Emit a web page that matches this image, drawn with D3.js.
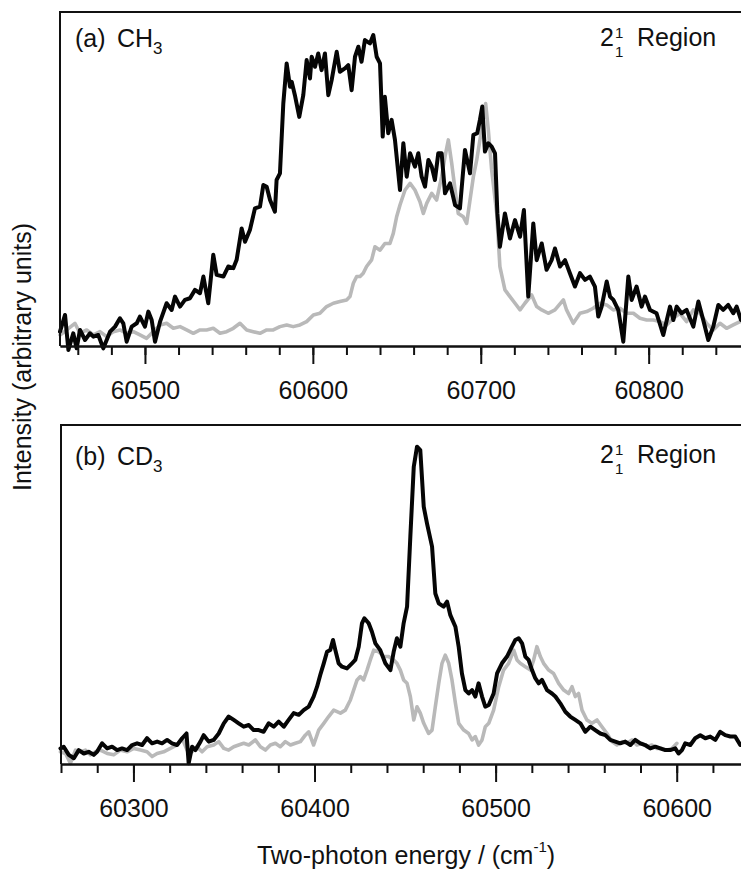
<!DOCTYPE html>
<html>
<head>
<meta charset="utf-8">
<script src="https://cdn.jsdelivr.net/npm/d3@7"></script>
<style>
    body { margin: 0; background: #fff; }
    text { font-family: "Liberation Sans", Arial, sans-serif; fill: #111; }
    .frame { stroke: #111; stroke-width: 2; fill: none; }
    .trace { fill: none; stroke-linejoin: round; stroke-linecap: round; }
</style>
</head>
<body>
<script>
(function(){

    //spectra: [two-photon energy (cm-1), intensity (arb.)]
    var ch3Black = [[60449.4,4.3],[60452.4,9.3],[60454.4,-1.2],[60457.3,3.8],[60459.3,-0.7],[60461.3,4.8],[60464.3,1.8],[60467.3,3.8],[60469.3,2.8],[60472.2,3.3],[60475.2,-0.7],[60477.2,1.8],[60479.2,4.3],[60482.2,5.8],[60485.1,8.3],[60487.1,6.8],[60489.1,1.3],[60492.1,5.8],[60495.1,6.8],[60497.0,8.8],[60500.0,5.8],[60502.0,10.3],[60504.0,7.8],[60506.0,1.3],[60509.0,7.3],[60512.9,12.8],[60515.9,10.8],[60517.9,14.8],[60520.9,11.8],[60523.8,13.8],[60526.8,14.3],[60529.8,16.8],[60532.8,15.8],[60534.8,20.8],[60537.7,12.8],[60540.7,27.3],[60542.7,21.3],[60546.7,20.8],[60549.6,23.8],[60552.6,23.3],[60554.6,25.8],[60557.6,35.2],[60559.6,31.2],[60562.5,34.7],[60565.5,41.2],[60568.5,41.7],[60570.5,48.2],[60572.5,47.7],[60574.5,43.7],[60577.4,40.2],[60578.4,49.7],[60580.4,51.7],[60582.4,72.6],[60584.4,84.6],[60586.4,77.6],[60587.4,79.1],[60589.3,75.1],[60591.9,68.6],[60594.3,75.1],[60596.3,85.6],[60598.3,80.1],[60599.3,86.6],[60601.3,83.6],[60603.2,87.6],[60605.2,82.6],[60607.2,87.6],[60609.2,75.1],[60611.2,79.6],[60614.2,88.1],[60616.1,82.1],[60619.1,83.1],[60621.1,84.1],[60623.1,76.6],[60625.1,86.6],[60627.1,89.6],[60629.0,85.1],[60631.0,91.6],[60634.0,90.6],[60636.0,93.1],[60638.0,86.6],[60640.0,84.6],[60641.6,62.7],[60642.9,74.6],[60644.9,63.7],[60646.9,67.7],[60648.9,61.7],[60651.9,46.7],[60653.9,60.7],[60655.9,50.7],[60657.9,57.7],[60660.8,53.7],[60662.8,57.7],[60664.8,50.7],[60666.8,47.7],[60668.8,55.7],[60670.8,53.7],[60672.7,49.7],[60674.7,57.7],[60676.7,57.7],[60678.7,45.7],[60681.7,48.7],[60684.7,42.2],[60687.6,41.2],[60690.6,58.7],[60693.6,51.7],[60695.6,63.2],[60697.9,63.7],[60699.5,67.7],[60700.9,71.7],[60702.5,58.2],[60704.5,60.7],[60706.5,59.7],[60708.5,57.7],[60709.9,39.7],[60711.4,29.7],[60714.4,39.7],[60717.4,32.2],[60720.4,37.7],[60723.4,32.7],[60725.7,40.7],[60728.3,14.8],[60731.3,36.7],[60733.3,25.7],[60736.3,30.7],[60739.2,22.8],[60742.2,25.7],[60744.2,29.2],[60747.2,23.8],[60750.2,25.7],[60753.1,21.8],[60756.1,17.8],[60759.1,21.8],[60762.1,19.8],[60765.0,20.8],[60768.0,17.8],[60770.0,8.8],[60772.0,11.8],[60775.0,19.3],[60777.0,14.8],[60779.0,13.8],[60781.9,10.8],[60784.9,1.3],[60787.9,20.8],[60789.9,13.8],[60792.8,17.8],[60795.8,11.8],[60797.8,14.8],[60800.8,10.8],[60804.7,9.8],[60808.7,3.3],[60812.7,11.8],[60814.7,7.8],[60816.7,11.8],[60819.6,9.8],[60822.6,10.8],[60826.6,5.8],[60829.6,13.3],[60832.5,7.8],[60835.5,1.8],[60838.5,5.8],[60841.5,12.3],[60844.4,10.8],[60847.4,12.3],[60850.4,9.8],[60852.4,11.8],[60855.0,7.8]];

    var ch3Gray = [[60449.4,3.3],[60453.4,4.8],[60458.3,6.8],[60461.3,3.8],[60465.3,4.8],[60469.3,3.3],[60473.2,4.3],[60477.2,2.8],[60481.2,4.3],[60485.1,4.8],[60489.1,3.8],[60493.1,4.3],[60497.0,3.3],[60501.0,2.3],[60505.0,4.3],[60509.0,6.3],[60512.9,6.8],[60516.9,5.3],[60520.9,5.8],[60524.8,4.8],[60528.8,3.8],[60532.8,4.8],[60536.7,4.8],[60540.7,5.3],[60544.7,3.8],[60548.6,4.3],[60552.6,5.3],[60556.6,6.8],[60560.6,4.8],[60564.5,4.3],[60568.5,3.8],[60572.5,4.8],[60576.4,4.8],[60580.4,5.8],[60584.4,6.3],[60588.3,5.8],[60592.3,6.3],[60596.3,7.3],[60600.3,9.3],[60604.2,9.8],[60608.2,11.8],[60612.2,12.8],[60616.1,13.3],[60620.1,13.8],[60622.1,14.8],[60624.1,18.8],[60626.1,20.8],[60628.1,20.8],[60630.0,21.8],[60632.0,23.8],[60635.0,25.8],[60637.0,29.7],[60640.0,28.7],[60642.9,30.7],[60645.9,30.7],[60647.9,33.7],[60649.9,38.7],[60651.9,42.2],[60654.9,46.7],[60657.9,48.7],[60660.8,46.7],[60663.8,43.2],[60665.8,39.7],[60667.8,42.7],[60670.8,45.7],[60673.7,43.7],[60676.7,50.7],[60678.7,56.7],[60680.7,61.7],[60682.7,54.7],[60684.7,46.7],[60686.6,39.7],[60689.6,38.7],[60691.6,36.7],[60693.6,43.7],[60695.6,50.7],[60697.6,55.7],[60699.5,61.7],[60701.5,67.7],[60702.9,72.6],[60704.5,64.7],[60706.5,52.7],[60709.5,39.7],[60711.4,23.8],[60714.4,16.8],[60717.4,14.8],[60720.4,12.8],[60723.4,10.8],[60726.3,12.8],[60730.3,15.3],[60733.3,11.8],[60736.3,10.8],[60740.2,9.8],[60744.2,10.8],[60749.2,13.8],[60751.1,10.8],[60755.1,6.8],[60759.1,9.8],[60763.1,10.3],[60767.0,11.3],[60771.0,12.8],[60775.0,12.3],[60778.9,10.8],[60782.9,11.3],[60786.9,9.8],[60790.9,9.8],[60794.8,8.3],[60798.8,7.8],[60802.8,7.8],[60806.7,7.3],[60810.7,6.3],[60814.7,8.3],[60818.6,9.8],[60822.6,7.3],[60826.6,10.8],[60830.5,9.8],[60834.5,6.8],[60838.5,4.8],[60842.5,6.8],[60846.4,5.3],[60850.4,6.3],[60854.4,7.3]];

    var cd3Black = [[60259.7,4.6],[60261.5,5.1],[60264.3,2.7],[60267.1,1.7],[60269.8,4.1],[60272.6,3.1],[60275.3,3.6],[60278.1,2.7],[60279.9,3.6],[60282.7,6.1],[60285.5,4.6],[60288.2,5.1],[60291.0,4.1],[60293.7,4.6],[60296.5,4.1],[60299.3,5.6],[60302.0,6.1],[60304.8,5.6],[60307.5,7.6],[60310.3,6.1],[60313.1,6.6],[60315.8,6.1],[60318.6,7.1],[60321.3,6.1],[60324.1,5.6],[60326.9,7.6],[60329.3,9.0],[60330.5,0.2],[60332.4,5.1],[60334.2,4.1],[60337.0,6.6],[60338.8,8.5],[60341.6,6.6],[60344.3,7.1],[60347.1,9.0],[60349.9,12.0],[60352.6,14.0],[60355.4,13.0],[60358.1,12.0],[60360.9,11.0],[60363.7,11.5],[60366.4,10.0],[60369.2,10.0],[60371.9,9.5],[60374.7,12.0],[60377.5,11.0],[60380.2,12.5],[60383.0,11.0],[60385.7,13.0],[60388.5,15.0],[60391.3,14.5],[60394.0,15.9],[60396.8,16.9],[60399.5,19.9],[60401.4,22.8],[60403.2,26.3],[60405.1,29.7],[60406.9,33.1],[60408.7,33.6],[60410.2,36.6],[60411.5,33.6],[60413.3,29.7],[60415.2,28.7],[60417.9,28.2],[60420.7,29.7],[60422.5,30.7],[60424.4,34.6],[60426.2,41.5],[60427.5,43.0],[60429.9,41.5],[60431.7,39.0],[60433.6,35.6],[60436.3,33.6],[60439.1,29.7],[60441.9,27.7],[60443.7,33.1],[60445.5,37.1],[60447.4,34.6],[60449.2,41.5],[60451.1,46.4],[60452.9,67.0],[60454.8,87.7],[60456.6,93.6],[60458.4,92.6],[60460.3,75.9],[60462.1,71.0],[60464.9,64.1],[60466.7,50.3],[60468.6,47.4],[60471.3,46.4],[60473.2,47.9],[60475.0,43.9],[60477.8,40.5],[60479.6,34.6],[60481.4,26.7],[60483.3,21.8],[60485.1,20.8],[60487.0,21.8],[60488.8,19.9],[60490.6,23.8],[60492.5,19.9],[60494.3,16.9],[60496.2,17.4],[60498.9,20.8],[60500.8,26.7],[60503.5,29.7],[60506.3,31.7],[60509.0,34.6],[60510.9,36.6],[60512.7,37.1],[60514.6,35.6],[60516.4,31.7],[60518.2,30.7],[60520.1,27.7],[60521.9,25.3],[60523.8,23.8],[60525.6,24.8],[60528.4,21.8],[60531.1,20.8],[60533.0,19.9],[60535.7,17.9],[60538.5,15.4],[60541.2,14.0],[60544.0,13.0],[60546.8,12.0],[60549.5,9.5],[60552.3,11.0],[60555.0,10.0],[60557.8,9.0],[60560.6,8.5],[60563.3,7.1],[60566.1,6.6],[60568.8,6.1],[60571.6,6.6],[60574.4,5.6],[60577.1,7.1],[60579.9,6.1],[60582.6,5.6],[60585.4,4.6],[60588.2,5.1],[60590.9,4.6],[60593.7,4.1],[60596.4,4.1],[60599.2,4.6],[60601.0,3.1],[60602.9,4.1],[60604.7,6.1],[60607.5,5.6],[60610.2,7.6],[60613.0,8.5],[60615.8,7.6],[60618.5,8.1],[60621.3,7.1],[60624.0,9.5],[60626.8,8.5],[60629.6,8.1],[60632.3,8.1],[60635.1,5.6]];

    var cd3Gray = [[60259.7,3.6],[60262.5,3.1],[60265.2,0.2],[60268.0,4.1],[60270.7,3.6],[60273.5,4.1],[60276.3,2.7],[60279.0,3.6],[60281.8,4.1],[60285.5,3.1],[60289.1,2.7],[60292.8,4.1],[60296.5,3.6],[60300.2,4.6],[60303.9,4.1],[60307.5,3.6],[60310.3,2.2],[60313.1,3.1],[60316.7,3.6],[60320.4,4.6],[60324.1,5.6],[60326.9,7.6],[60329.6,4.1],[60332.4,3.6],[60335.1,5.1],[60337.9,3.6],[60340.7,5.1],[60344.3,5.6],[60347.1,6.6],[60349.9,4.6],[60352.6,4.1],[60355.4,5.1],[60358.1,5.6],[60360.9,6.1],[60363.7,5.6],[60367.3,7.1],[60370.1,5.1],[60372.9,4.1],[60375.6,5.6],[60378.4,6.1],[60381.1,5.1],[60383.9,6.6],[60386.7,5.6],[60389.4,6.1],[60392.2,6.6],[60394.9,8.5],[60396.8,9.5],[60399.5,5.6],[60402.3,10.0],[60405.1,12.0],[60407.8,14.0],[60410.6,15.9],[60414.3,15.0],[60417.0,15.9],[60419.8,18.9],[60421.6,21.8],[60423.5,24.8],[60425.3,25.8],[60427.1,24.8],[60429.0,27.7],[60430.8,30.7],[60432.7,33.6],[60435.4,33.1],[60438.2,31.7],[60440.9,31.7],[60443.7,30.7],[60445.5,29.7],[60447.4,27.7],[60449.2,24.8],[60451.1,23.8],[60452.9,19.9],[60454.8,13.0],[60456.6,16.9],[60458.4,15.0],[60460.3,12.0],[60463.0,9.0],[60464.9,10.0],[60466.7,16.9],[60468.6,23.8],[60470.4,29.7],[60472.2,32.1],[60474.1,29.7],[60475.9,24.8],[60477.8,17.9],[60479.6,12.0],[60482.4,10.0],[60485.1,9.0],[60487.0,7.1],[60488.8,8.1],[60490.6,5.6],[60492.5,7.1],[60494.3,11.0],[60496.2,12.0],[60498.9,15.9],[60501.7,22.8],[60504.4,27.7],[60507.2,29.7],[60510.0,33.6],[60511.8,30.7],[60513.6,29.7],[60516.4,28.7],[60519.2,27.7],[60521.0,30.7],[60522.8,34.6],[60524.7,31.7],[60526.5,29.7],[60529.3,27.7],[60532.0,26.7],[60534.8,23.8],[60537.6,21.8],[60540.3,20.8],[60542.2,22.8],[60544.0,19.9],[60545.8,20.8],[60547.7,15.9],[60550.4,13.0],[60553.2,12.0],[60556.0,13.0],[60558.7,11.0],[60561.5,9.0],[60564.2,6.6],[60567.0,5.6],[60569.8,6.6],[60572.5,6.1],[60575.3,7.1],[60578.0,5.6],[60580.8,6.1],[60583.6,5.1],[60586.3,5.6],[60589.1,4.6],[60591.8,4.6],[60594.6,4.1],[60597.4,4.6],[60600.1,6.1]];

    //tick values for each panel
    var ch3MajorTicks = [60500, 60600, 60700, 60800];
    var cd3MajorTicks = [60300, 60400, 60500, 60600];

    //text labels
    var panelLabels = [["(a)", "CH", "3"], ["(b)", "CD", "3"]];
    var regionLabel = "Region";
    var yTitle = "Intensity (arbitrary units)";
    var xTitle = "Two-photon energy / (cm";

    window.onload = setChart();

    function setChart(){
        var width = 741,
            height = 870;

        var svg = d3.select("body")
            .append("svg")
            .attr("width", width)
            .attr("height", height);

        //top panel: CH3
        drawPanel(svg, {
            left: 60, right: 741, top: 12, bottom: 346,
            xDomain: [60449.4, 60855],
            majors: ch3MajorTicks,
            minorStart: 60460,
            traces: [ch3Gray, ch3Black],
            label: panelLabels[0],
            labelY: 47,
            regionY: 46
        });

        //bottom panel: CD3
        drawPanel(svg, {
            left: 61, right: 741, top: 425, bottom: 764,
            xDomain: [60260, 60635.5],
            majors: cd3MajorTicks,
            minorStart: 60260,
            traces: [cd3Gray, cd3Black],
            label: panelLabels[1],
            labelY: 465,
            regionY: 463
        });

        //shared y title
        svg.append("text")
            .attr("transform", "translate(31,357) rotate(-90)")
            .attr("text-anchor", "middle")
            .style("font-size", "25px")
            .text(yTitle);

        //shared x title with superscript
        var xt = svg.append("text")
            .attr("x", 406)
            .attr("y", 864)
            .attr("text-anchor", "middle")
            .style("font-size", "25px");
        xt.append("tspan").text(xTitle);
        xt.append("tspan")
            .attr("dy", -12)
            .style("font-size", "15px")
            .text("-1");
        xt.append("tspan")
            .attr("dy", 12)
            .text(")");
    };

    function drawPanel(svg, p){
        var x = d3.scaleLinear()
            .domain(p.xDomain)
            .range([p.left, p.right]);

        var y = d3.scaleLinear()
            .domain([0, 100])
            .range([p.bottom, p.top]);

        var line = d3.line()
            .x(function(d){ return x(d[0]); })
            .y(function(d){ return y(d[1]); });

        //gray trace underneath, black on top
        svg.append("path")
            .datum(p.traces[0])
            .attr("class", "trace")
            .attr("d", line)
            .attr("stroke", "#b9b9b9")
            .attr("stroke-width", 3.6);

        svg.append("path")
            .datum(p.traces[1])
            .attr("class", "trace")
            .attr("d", line)
            .attr("stroke", "#050505")
            .attr("stroke-width", 4);

        //minor ticks every 20 cm-1
        var minorAxis = d3.axisBottom(x)
            .tickValues(d3.range(p.minorStart, p.xDomain[1], 20))
            .tickSize(9)
            .tickSizeOuter(0)
            .tickFormat("");

        svg.append("g")
            .attr("class", "axis minor")
            .attr("transform", "translate(0," + p.bottom + ")")
            .call(minorAxis);

        //major ticks with labels
        var majorAxis = d3.axisBottom(x)
            .tickValues(p.majors)
            .tickSize(18)
            .tickSizeOuter(0)
            .tickPadding(17)
            .tickFormat(d3.format("d"));

        var gMajor = svg.append("g")
            .attr("class", "axis major")
            .attr("transform", "translate(0," + p.bottom + ")")
            .call(majorAxis);

        gMajor.selectAll("text")
            .attr("font-family", "Liberation Sans, Arial, sans-serif")
            .style("font-size", "25px")
            .attr("fill", "#111");

        svg.selectAll(".axis path, .axis line")
            .attr("stroke", "#111")
            .attr("stroke-width", 2);

        //left and top frame lines
        svg.append("path")
            .attr("class", "frame")
            .attr("d", "M" + p.left + "," + p.bottom + "V" + p.top + "H" + p.right);

        //panel label e.g. (a) CH3
        svg.append("text")
            .attr("x", 75)
            .attr("y", p.labelY)
            .style("font-size", "25px")
            .text(p.label[0]);

        var mol = svg.append("text")
            .attr("x", 117)
            .attr("y", p.labelY)
            .style("font-size", "25px");
        mol.append("tspan").text(p.label[1]);
        mol.append("tspan")
            .attr("dy", 7)
            .style("font-size", "17px")
            .text(p.label[2]);

        //2 with super and subscript 1, then Region
        svg.append("text")
            .attr("x", 600)
            .attr("y", p.regionY)
            .style("font-size", "25px")
            .text("2");
        svg.append("text")
            .attr("x", 615)
            .attr("y", p.regionY - 8)
            .style("font-size", "15px")
            .text("1");
        svg.append("text")
            .attr("x", 615)
            .attr("y", p.regionY + 11)
            .style("font-size", "15px")
            .text("1");
        svg.append("text")
            .attr("x", 637)
            .attr("y", p.regionY)
            .style("font-size", "25px")
            .text(regionLabel);
    };

})();
</script>
</body>
</html>
